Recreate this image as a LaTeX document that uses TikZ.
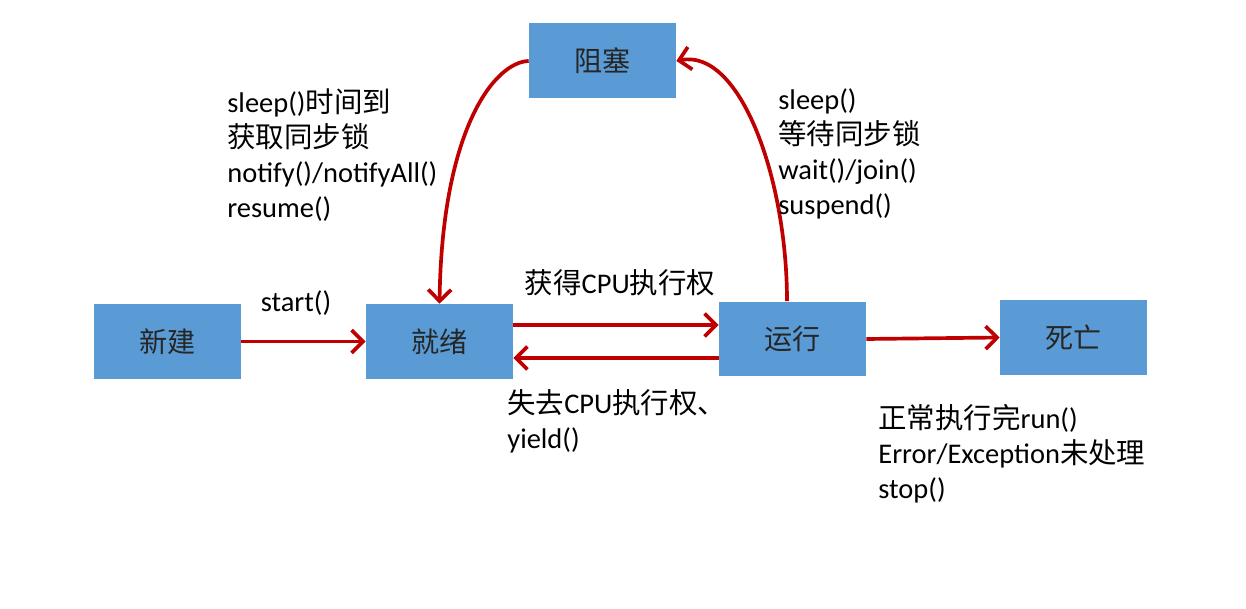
\documentclass[tikz,border=0pt]{standalone}
\usepackage{fontspec}
\setmainfont{Carlito}
\newfontfamily\cjk{Noto Sans CJK SC}
\usetikzlibrary{arrows.meta, positioning}
\definecolor{boxblue}{HTML}{5B9BD5}
\definecolor{flowred}{HTML}{C00000}

\tikzset{
	state/.style={fill=boxblue, text=black!85, minimum width=2.94cm, minimum height=1.5cm, inner sep=0pt, font=\cjk\fontsize{16}{18}\selectfont},
	flow/.style={draw=flowred, line width=2.1pt, -{Straight Barb[length=6.5pt, width=13pt]}},
	lbl/.style={inner sep=0pt, align=left, font=\fontsize{16.2}{20}\selectfont}
}

\begin{document}
\begin{tikzpicture}[x=0.02cm, y=0.02cm]
	
	\useasboundingbox (0,0) rectangle (1246,608);
	
	%// states
	\node [state] (new) at (167.5, 266.5) {新建};
	\node [state] (ready) at (439.5, 266.5) {就绪};
	\node [state] (run) at (792.5, 269) {运行};
	\node [state] (dead) at (1073.5, 270.5) {死亡};
	\node [state] (blocked) at (602.5, 547) {阻塞};
	
	%// transitions
	\draw [flow] (new.east) -- (ready.west);
	\draw [flow] (ready.east |- 0,283) -- (run.west |- 0,283);
	\draw [flow] (run.west |- 0,250) -- (ready.east |- 0,250);
	\draw [flow] (run.east) -- (dead.west);
	\draw [flow] ([xshift=-0.11cm]run.north) .. controls (787,430) and (740,560) .. (blocked.east);
	\draw [flow] (blocked.west) .. controls (495,546) and (442,480) .. (ready.north);
	
	%// labels
	\node [lbl] (startlbl) at (296, 305) {start()};
	\node [lbl] (getcpu) at (620, 325) {{\cjk 获得}CPU{\cjk 执行权}};
	\node [lbl, anchor=north west] (losecpu) at (507, 219) {{\cjk 失去}CPU{\cjk 执行权、}\\yield()};
	\node [lbl, anchor=north west] (wakeup) at (227, 520) {sleep(){\cjk 时间到}\\{\cjk 获取同步锁}\\notify()/notifyAll()\\resume()};
	\node [lbl, anchor=north west] (sleep) at (778, 520) {sleep()\\{\cjk 等待同步锁}\\wait()/join()\\suspend()};
	\node [lbl, anchor=north west] (finish) at (878, 204) {{\cjk 正常执行完}run()\\Error/Exception{\cjk 未处理}\\stop()};
	
\end{tikzpicture}
\end{document}
